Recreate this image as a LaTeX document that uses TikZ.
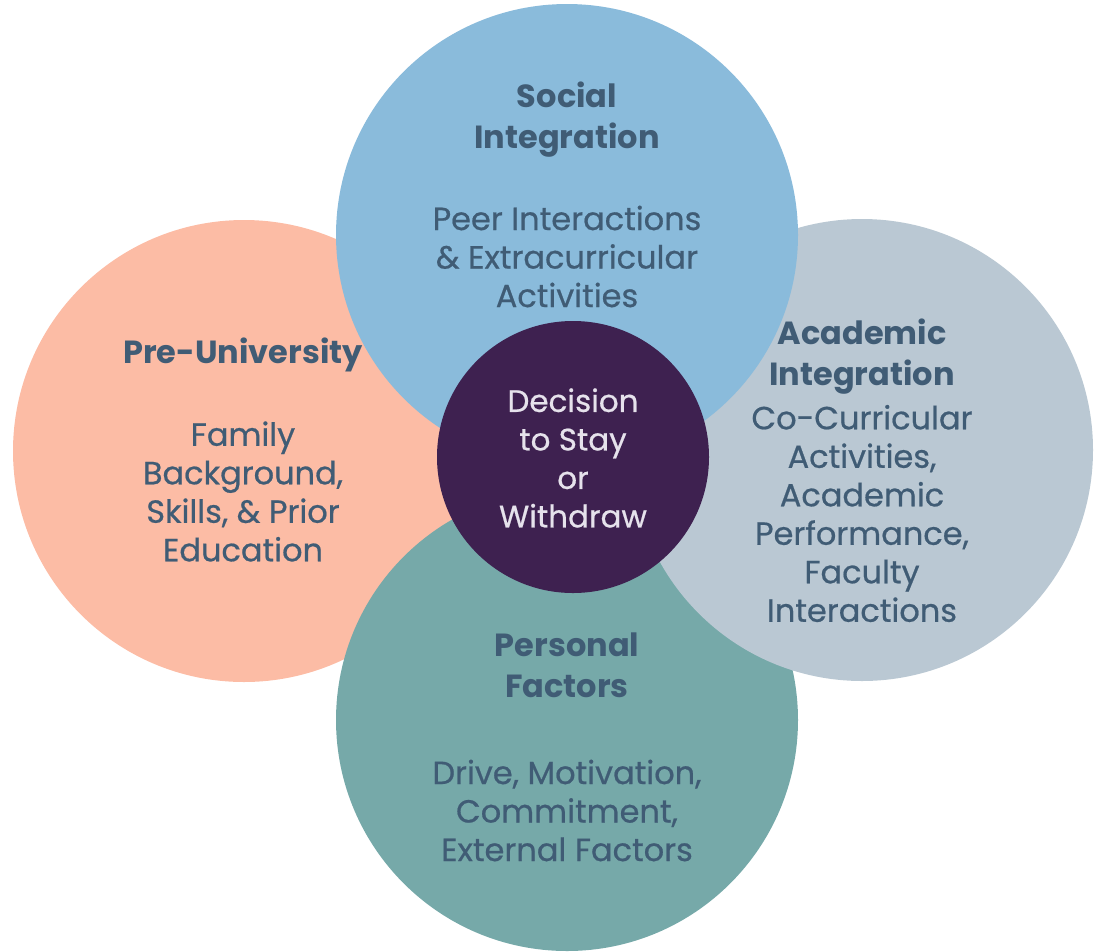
\documentclass[tikz,border=0pt]{standalone}
\usepackage{fontspec}
\setmainfont{Poppins}
% slightly heavier variant for the descriptive text
\newfontfamily\bodyfont[FakeBold=0.6]{Poppins}
\definecolor{preuni}{HTML}{FCBCA5}
\definecolor{social}{HTML}{8ABBDB}
\definecolor{academic}{HTML}{BAC8D3}
\definecolor{personal}{HTML}{76A9A9}
\definecolor{decision}{HTML}{3E2150}
\definecolor{inktext}{HTML}{405C75}
\definecolor{lighttext}{HTML}{E6E2EC}
\tikzset{
  bigcircle/.style={circle, minimum size=462pt, inner sep=0pt},
  heading/.style={align=center, text=inktext, font=\fontsize{32}{41}\selectfont\bfseries},
  body/.style={align=center, text=inktext, font=\bodyfont\fontsize{32}{38.5}\selectfont},
  centre/.style={align=center, text=lighttext, font=\bodyfont\fontsize{31}{38.5}\selectfont}
}
\begin{document}
\begin{tikzpicture}[x=1pt,y=-1pt]
\useasboundingbox (0,0) rectangle (1099,951);
% the four surrounding factors, layered salmon, teal, grey, blue
\node[bigcircle, fill=preuni]   (pre)  at (244,451) {};
\node[bigcircle, fill=personal] (pers) at (567,720) {};
\node[bigcircle, fill=academic] (acad) at (862,450) {};
\node[bigcircle, fill=social]   (soc)  at (567,235) {};
% central decision
\node[circle, minimum size=272pt, inner sep=0pt, fill=decision] (dec) at (573,457) {};

% labels
\node[heading] (socH) at (567,120) {Social\\Integration};
\node[body]    (socB) at (567,256.5) {Peer Interactions\\\& Extracurricular\\Activities};

\node[heading] (preH) at (243,355) {Pre-University};
\node[body]    (preB) at (243,491.5) {Family\\Background,\\Skills, \& Prior\\Education};

\node[heading] (acaH) at (862,357) {Academic\\Integration};
\node[body]    (acaB) at (862,513.5) {Co-Curricular\\Activities,\\Academic\\Performance,\\Faculty\\Interactions};

\node[heading] (perH) at (567,665.5) {Personal\\Factors};
\node[body]    (perB) at (567,810.5) {Drive, Motivation,\\Commitment,\\External Factors};

\node[centre]  (decT) at (573,458) {Decision\\to Stay\\or\\Withdraw};
\end{tikzpicture}
\end{document}
